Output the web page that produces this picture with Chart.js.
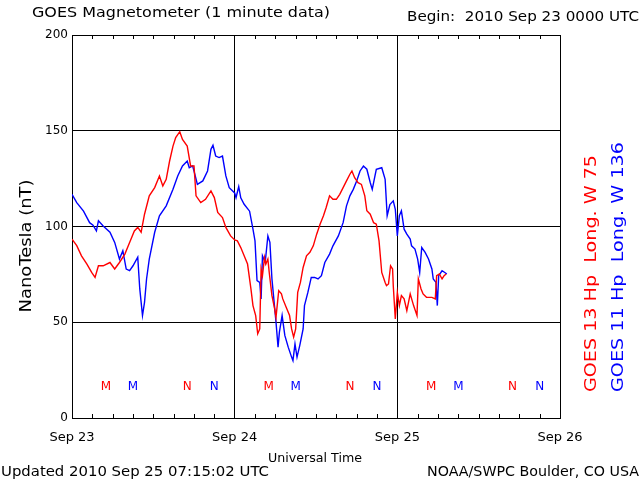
<!DOCTYPE html>
<html><head><meta charset="utf-8">
<script src="https://cdn.jsdelivr.net/npm/chart.js@4.4.0/dist/chart.umd.min.js"></script>
<style>html,body{margin:0;padding:0;background:#fff}#wrap{width:640px;height:480px}</style>
</head><body><div id="wrap"><canvas id="c" width="640" height="480"></canvas></div>
<script>
// ---- data (hours since 2010 Sep 23 00:00 UT) ----
const xTickLabels = ['Sep 23', 'Sep 24', 'Sep 25', 'Sep 26'];
const yTickValues = [0, 50, 100, 150, 200];

const blueHours = [0,0.7,1.7,2.6,3.1,3.6,3.9,4.6,5.6,6.3,7.0,7.5,8.0,8.5,9.0,9.7,10.0,10.4,10.7,11.0,11.4,12.2,12.9,13.9,14.9,15.6,16.3,17.0,17.3,17.8,18.0,18.5,19.3,20.0,20.5,20.8,21.2,21.7,22.2,22.7,23.2,24.0,24.2,24.6,24.9,25.4,26.2,26.7,27.0,27.3,27.7,27.9,28.1,28.5,28.9,29.2,29.5,29.8,30.1,30.4,30.6,31.0,31.4,31.9,32.4,32.6,32.9,33.2,33.6,34.1,34.3,34.8,35.3,35.8,36.3,36.8,37.3,38.0,38.5,39.3,40.0,40.5,41.0,41.5,42.0,42.5,43.0,43.5,44.0,44.3,44.7,44.9,45.7,46.2,46.5,46.9,47.4,47.7,48.0,48.3,48.6,49.0,49.4,49.9,50.1,50.6,51.0,51.3,51.6,52.1,52.6,53.1,53.3,53.7,53.9,54.1,54.6,55.0,55.3];
const blueValues = [116.8,112.5,108,102,100.7,97.7,103,100.3,97,91.7,83,87.3,77.8,77,79.5,84,67.4,53.5,60.4,72.6,83,97,105.6,110.8,119.4,126.4,131.6,134.2,130.7,131.6,129,122,123.8,129,140.3,142.4,136.8,136,136.8,126.4,120.3,117.5,115,120.8,115,111.6,108,98.6,92.5,71.7,70.8,62.2,84.7,81.2,95.1,91.7,72.6,61.3,50,37,44.8,53.5,43.1,37,31.8,30,38.7,31.8,37.8,46.5,58.7,65.6,73.4,73.4,72.6,74.3,81.2,85.6,89.9,95.1,102,110.8,116,119.4,123.8,129,131.6,129.9,123,119.4,126.4,129.9,130.7,124.6,105.6,111.5,113.4,109,95.1,105.6,108.2,98.6,96,93.4,89.9,88.2,83,76,89,86.5,83,77.8,72.6,70.8,58.7,74.3,76.9,76,75.2];

const redHours = [0,0.7,1.4,2.2,2.9,3.4,3.9,4.6,5.6,6.3,7.0,7.8,8.5,9.2,9.7,10.2,10.7,11.4,12.2,12.9,13.4,13.9,14.4,14.9,15.3,15.9,16.3,17.0,17.5,18.0,18.3,19.0,19.7,20.5,21.0,21.5,22.2,22.7,23.4,24.0,24.4,24.9,25.4,25.9,26.4,26.7,27.1,27.4,27.7,27.9,28.1,28.4,28.6,28.9,29.1,29.5,29.9,30.1,30.5,30.9,31.1,31.6,32.1,32.4,32.7,33.0,33.3,33.7,34.1,34.6,35.1,35.6,36.1,36.6,37.1,37.5,38.0,38.5,39.0,39.5,40.0,40.5,41.0,41.3,41.7,42.2,42.7,43.2,43.5,44.0,44.5,44.9,45.3,45.7,46.2,46.4,46.7,47.0,47.3,47.4,47.7,48.0,48.3,48.6,49.0,49.4,49.9,50.4,50.9,51.1,51.5,51.8,52.3,53.1,53.6,53.8,54.2,54.6,54.9,55.2];
const redValues = [93.4,90,84.7,80.4,76,73.4,79.5,79.5,81.2,77.8,81.2,85.6,91.7,97.7,99.5,97,106.4,116,120.3,126.4,121.2,124.6,134.2,142,146.4,149.5,145.5,142,131.6,131.6,116,112.5,114.2,118.6,115.1,107.3,104.7,99.5,95.1,93,92.5,89,84.7,80.4,67.4,58.7,53.5,44,46.5,77.8,74.3,83.8,80.4,83,76,63.9,57,52.6,66.5,64.8,62.2,57.8,53.5,46.5,42.2,46.5,65.6,70.8,78.6,84.7,86.5,89.9,96,101.2,105.6,109.9,116,114.2,114.2,116.8,120.3,123.8,127.3,129,125.5,122.9,122,116,108.2,106.4,102,101.2,92.5,76,70.8,69.1,70,79.5,77.8,69.1,51.7,65.6,58.7,63.9,62.2,56,64.8,58.7,53.5,72.6,67.4,64.8,63,63,62.2,74.3,75.2,72.6,74.3,75.2];

// local midnight (M) / noon (N) markers
const redMarkerHours = [5, 17, 29, 41, 53, 65];
const blueMarkerHours = [9, 21, 33, 45, 57, 69];
const markerText = ['M', 'N', 'M', 'N', 'M', 'N'];
const markerLevel = 17;

const FONT = '"DejaVu Sans", sans-serif';
const RED = '#ff0000', BLUE = '#0000ff';

function txt(ctx, s, x, y, o) {
  ctx.save();
  ctx.font = (o.size || 14) + 'px ' + FONT;
  ctx.fillStyle = o.color || '#000';
  ctx.textBaseline = 'alphabetic';
  ctx.textAlign = o.align || 'left';
  ctx.translate(x, y);
  if (o.rot) ctx.rotate(o.rot);
  if (o.width) { const w = ctx.measureText(s).width; ctx.scale(o.width / w, 1); }
  ctx.fillText(s, 0, 0);
  ctx.restore();
}

const decor = {
  id: 'decor',
  afterDraw(chart) {
    const ctx = chart.ctx, xs = chart.scales.x, ys = chart.scales.y, a = chart.chartArea;
    // minor 3-hour ticks on top and bottom
    ctx.save();
    ctx.strokeStyle = '#000'; ctx.lineWidth = 1;
    ctx.beginPath();
    for (let h = 3; h < 72; h += 3) {
      if (h % 24 === 0) continue;
      const x = Math.round(xs.getPixelForValue(h)) + 0.5;
      ctx.moveTo(x, a.top); ctx.lineTo(x, a.top + 4);
      ctx.moveTo(x, a.bottom); ctx.lineTo(x, a.bottom - 4);
    }
    ctx.stroke();
    ctx.restore();
    // M / N markers
    const my = ys.getPixelForValue(markerLevel) + 5;
    redMarkerHours.forEach((h, i) => txt(ctx, markerText[i], xs.getPixelForValue(h), my, {size: 12, color: RED, align: 'center'}));
    blueMarkerHours.forEach((h, i) => txt(ctx, markerText[i], xs.getPixelForValue(h), my, {size: 12, color: BLUE, align: 'center'}));
    // texts
    txt(ctx, 'GOES Magnetometer (1 minute data)', 32, 17, {size: 14, width: 298});
    txt(ctx, 'Begin:  2010 Sep 23 0000 UTC', 639, 21, {size: 14, width: 232, align: 'right'});
    txt(ctx, 'Universal Time', 315, 462, {size: 13, width: 94, align: 'center'});
    txt(ctx, 'Updated 2010 Sep 25 07:15:02 UTC', 1, 476, {size: 14, width: 268});
    txt(ctx, 'NOAA/SWPC Boulder, CO USA', 639, 476, {size: 14, width: 212, align: 'right'});
    txt(ctx, 'NanoTesla (nT)', 31, 246, {size: 16, width: 133, align: 'center', rot: -Math.PI / 2});
    txt(ctx, 'GOES 13 Hp  Long. W 75', 596, 392, {size: 16, width: 237, color: RED, rot: -Math.PI / 2});
    txt(ctx, 'GOES 11 Hp  Long. W 136', 623, 392, {size: 16, width: 250, color: BLUE, rot: -Math.PI / 2});
  }
};

new Chart(document.getElementById('c'), {
  type: 'line',
  data: {
    datasets: [
      {label: 'GOES 13 Hp', data: redHours.map((h, i) => ({x: h, y: redValues[i]})), borderColor: RED, borderWidth: 1.4, pointRadius: 0, fill: false, tension: 0},
      {label: 'GOES 11 Hp', data: blueHours.map((h, i) => ({x: h, y: blueValues[i]})), borderColor: BLUE, borderWidth: 1.4, pointRadius: 0, fill: false, tension: 0}
    ]
  },
  options: {
    responsive: false, animation: false,
    layout: {padding: {left: 0, right: 80, top: 35, bottom: 0}},
    plugins: {legend: {display: false}, tooltip: {enabled: false}},
    scales: {
      x: {
        type: 'linear', min: 0, max: 72,
        afterBuildTicks: s => { s.ticks = xTickLabels.map((_, i) => ({value: i * 24})); },
        ticks: {callback: v => xTickLabels[v / 24], color: '#000', font: {family: FONT, size: 13}, padding: 12, maxRotation: 0, autoSkip: false},
        grid: {color: '#000', lineWidth: 1, drawTicks: false},
        border: {color: '#000', width: 1},
        afterFit: s => { s.height = 62; }
      },
      y: {
        min: 0, max: 200,
        afterBuildTicks: s => { s.ticks = yTickValues.map(v => ({value: v})); },
        ticks: {color: '#000', font: {family: FONT, size: 12}, padding: 4},
        grid: {color: '#000', lineWidth: 1, drawTicks: false},
        border: {color: '#000', width: 1},
        afterFit: s => { s.width = 72; }
      }
    }
  },
  plugins: [decor]
});
</script>
</body></html>
